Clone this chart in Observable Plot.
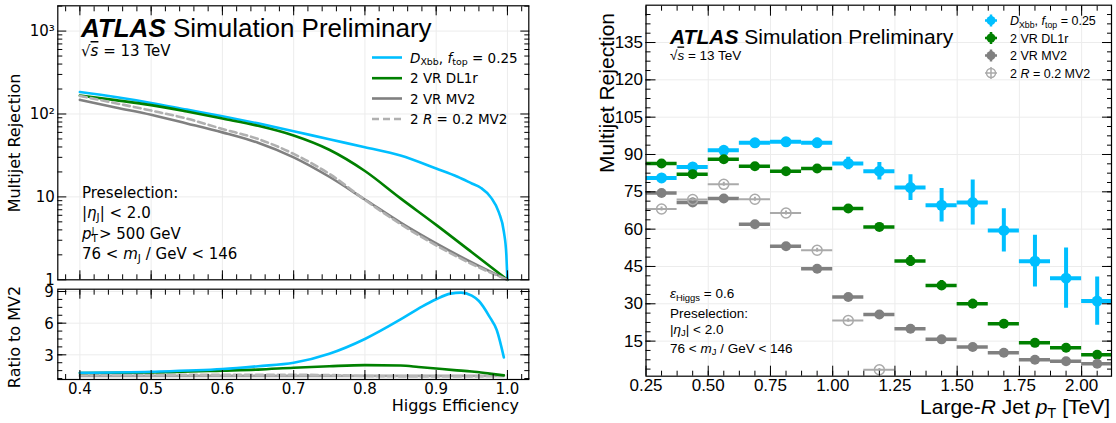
<!DOCTYPE html>
<html><head><meta charset="utf-8">
<script src="https://cdn.jsdelivr.net/npm/d3@7"></script>
<script src="https://cdn.jsdelivr.net/npm/@observablehq/plot@0.6"></script>
<style>
body{margin:0;background:#fff}
#wrap{position:relative;width:1116px;height:423px;overflow:hidden;background:#fff}
</style></head><body><div id="wrap"></div>
<script>
// ---------------- DATA ----------------
// Left top: multijet rejection vs Higgs efficiency
const effBlue = [0.40,0.45,0.50,0.55,0.60,0.65,0.70,0.75,0.80,0.85,0.90,0.93,0.95,0.963,0.977,0.988,0.995,0.9985,1.0];
const rejBlue = [184,160,136,113,94,77,62,49.5,39.8,31.6,22,17.5,14.5,12.8,9.8,6.5,3.8,2.0,1.0];
const effGreen = [0.40,0.45,0.50,0.55,0.60,0.65,0.70,0.75,0.80,0.85,0.90,0.95,1.0];
const rejGreen = [167,147,128,107,88,72,55,37,20.5,9.6,4.6,2.15,1.0];
const effMV2 = [0.40,0.45,0.50,0.55,0.60,0.65,0.70,0.75,0.80,0.85,0.90,0.95,1.0];
const rejMV2 = [148,120,98,77,60,45,30,17.5,9.3,4.9,2.75,1.62,1.0];
const effR02 = [0.40,0.45,0.50,0.55,0.60,0.65,0.70,0.75,0.80,0.85,0.90,0.95,1.0];
const rejR02 = [165,135,110,88,66,50,33,19,9.2,4.7,2.6,1.55,1.0];

// Left bottom: ratio to MV2
const ratBlueX = [0.40,0.50,0.60,0.65,0.70,0.75,0.80,0.85,0.88,0.90,0.92,0.935,0.95,0.96,0.975,0.985,0.995];
const ratBlue  = [1.30,1.40,1.65,1.92,2.24,3.10,4.50,6.35,7.57,8.27,8.80,8.90,8.60,8.10,6.60,5.35,2.75];
const ratGreenX = [0.40,0.50,0.60,0.65,0.70,0.75,0.80,0.85,0.875,0.90,0.925,0.95,0.975,0.995];
const ratGreen  = [1.28,1.33,1.50,1.60,1.78,1.92,2.02,1.98,1.85,1.70,1.55,1.42,1.22,1.05];
const ratMV2X = [0.40,0.995];
const ratMV2  = [1.0,1.0];
const ratR02X = [0.40,0.50,0.60,0.65,0.70,0.75,0.80,0.85,0.90,0.95,0.995];
const ratR02  = [1.12,1.12,1.10,1.10,1.10,1.08,0.99,0.96,0.95,0.95,1.0];

// Right: multijet rejection vs large-R jet pT (TeV), bins
const binLo = [0.25,0.375,0.5,0.625,0.75,0.875,1.0,1.125,1.25,1.375,1.5,1.625,1.75,1.875,2.0];
const binHi = [0.375,0.5,0.625,0.75,0.875,1.0,1.125,1.25,1.375,1.5,1.625,1.75,1.875,2.0,2.125];
const dxbbVal = [80.6,85.0,91.7,94.7,95.1,94.7,86.4,83.3,76.7,69.6,70.7,59.5,47.1,40.3,31.1];
const dxbbErr = [1.2,1.2,1.3,1.3,1.4,1.8,2.5,3.5,5.2,6.7,9.0,8.7,10.4,12.1,9.7];
const dl1rVal = [86.4,82.1,88.1,85.3,83.3,84.4,68.3,60.9,47.2,37.4,30.0,22.0,14.3,12.3,9.5];
const dl1rErr = [1.2,1.2,1.2,1.2,1.2,1.2,1.4,1.5,2.2,2.0,1.8,1.3,1.0,1.0,0.9];
const mv2Val  = [74.5,70.7,72.3,62.0,53.1,44.1,32.7,25.7,20.0,15.7,12.6,10.3,7.5,6.9,5.9];
const mv2Err  = [0.8,0.8,0.8,0.8,0.8,0.8,0.8,0.8,0.8,0.7,0.7,0.6,0.6,0.6,0.6];
const r02Val  = [68.1,71.9,78.0,72.0,66.5,51.5,23.3,3.5];
const r02Err  = [0.8,0.8,0.8,0.8,0.8,0.8,0.7,0.5];

// Tick labels
const logTicks = [1,10,100,1000];
const logTickLabels = ["1","10","10²","10³"];
const effTicks = [0.4,0.5,0.6,0.7,0.8,0.9,1.0];
const ratioTicks = [3,6,9];
const ptTicks = [0.25,0.5,0.75,1.0,1.25,1.5,1.75,2.0];
const rejTicks = [15,30,45,60,75,90,105,120,135];

// Legend labels
const leftNames = ["*D*_{Xbb}, *f*_{top} = 0.25","2 VR DL1r","2 VR MV2","2 *R* = 0.2 MV2"];
const rightNames = ["*D*_{Xbb}, *f*_{top} = 0.25","2 VR DL1r","2 VR MV2","2 *R* = 0.2 MV2"];

// ---------------- STYLE ----------------
const FL = "DejaVu Sans";
const FA = "Liberation Sans, Arial, Helvetica, sans-serif";
const C_BLUE = "#00bfff", C_GREEN = "#008000", C_GRAY = "#808080", C_LGRAY = "#aaaaaa";
const GRID = "#ececec";

const wrap = document.getElementById("wrap");
function place(el, left, top) {
  el.style.position = "absolute";
  el.style.left = left + "px";
  el.style.top = top + "px";
  el.style.maxWidth = "none";
  wrap.appendChild(el);
}

function addText(svg, x, y, str, o = {}) {
  const size = o.size ?? 15;
  const t = d3.select(svg).append("text")
    .attr("x", x).attr("y", y)
    .attr("font-size", size)
    .attr("font-family", o.family ?? FL)
    .attr("text-anchor", o.anchor ?? "start")
    .attr("fill", o.fill ?? "black");
  if (o.rotate) t.attr("transform", `rotate(${o.rotate} ${x} ${y})`);
  const parts = str.split(/(_\{[^}]*\}|\^\{[^}]*\}|\*[^*]+\*|!\{[^}]*\}|~\{[^}]*\}|%\{[^}]*\})/).filter(s => s !== "");
  const sm = size * 0.7;
  let cur = 0;
  const seg = (text, shift, attrs = {}) => {
    const ts = t.append("tspan").text(text);
    if (shift !== cur) { ts.attr("dy", shift - cur); cur = shift; }
    for (const [k, v] of Object.entries(attrs)) ts.attr(k, v);
    return ts;
  };
  for (const p of parts) {
    if (p.startsWith("_{")) seg(p.slice(2, -1), size * 0.2, {"font-size": sm});
    else if (p.startsWith("^{")) seg(p.slice(2, -1), -size * 0.38, {"font-size": sm});
    else if (p.startsWith("!{")) seg(p.slice(2, -1), 0, {"font-weight": "bold", "font-style": "italic"});
    else if (p.startsWith("~{")) seg(p.slice(2, -1), 0, {"font-style": "italic", "text-decoration": "overline"});
    else if (p.startsWith("%{")) {
      const [a, b] = p.slice(2, -1).split("|");
      seg(a, size * 0.25, {"font-size": sm});
      seg(b, -size * 0.3, {"font-size": size * 0.58, dx: -sm * 0.6});
    }
    else if (p.length > 2 && p.startsWith("*") && p.endsWith("*")) seg(p.slice(1, -1), 0, {"font-style": "italic"});
    else seg(p, 0);
  }
  return t;
}

function inTicks(xMaj, xMin, yMaj, yMin, maj = 9, mn = 5) {
  const out = [];
  const blank = () => "";
  for (const anchor of ["bottom", "top"]) {
    out.push(Plot.axisX({anchor, ticks: xMaj, tickSize: -maj, tickFormat: blank, label: null}));
    out.push(Plot.axisX({anchor, ticks: xMin, tickSize: -mn, tickFormat: blank, label: null}));
  }
  for (const anchor of ["left", "right"]) {
    out.push(Plot.axisY({anchor, ticks: yMaj, tickSize: -maj, tickFormat: blank, label: null}));
    out.push(Plot.axisY({anchor, ticks: yMin, tickSize: -mn, tickFormat: blank, label: null}));
  }
  return out;
}

const tbl = (xs, ys) => xs.map((x, i) => ({x, y: ys[i]}));

// ---------------- LEFT TOP ----------------
const effMinor = d3.range(0.38, 1.031, 0.02);
const logMinor = logTicks.flatMap(d => d3.range(2, 10).map(k => k * d)).filter(v => v <= 2018);

const topPlot = Plot.plot({
  width: 540, height: 284,
  marginLeft: 57.3, marginRight: 11.7, marginTop: 5.3, marginBottom: 4.7,
  style: {fontFamily: FL, fontSize: "15px", background: "transparent", color: "black", overflow: "visible"},
  x: {domain: [0.369, 1.030], label: null},
  y: {type: "log", domain: [1, 2018], label: null},
  marks: [
    Plot.gridX({ticks: effTicks, stroke: GRID, strokeOpacity: 1}),
    Plot.gridY({ticks: logTicks, stroke: GRID, strokeOpacity: 1}),
    Plot.line(tbl(effBlue, rejBlue), {x: "x", y: "y", stroke: C_BLUE, strokeWidth: 2.6, curve: "monotone-x"}),
    Plot.line(tbl(effGreen, rejGreen), {x: "x", y: "y", stroke: C_GREEN, strokeWidth: 2.6, curve: "monotone-x"}),
    Plot.line(tbl(effMV2, rejMV2), {x: "x", y: "y", stroke: C_GRAY, strokeWidth: 2.6, curve: "monotone-x"}),
    Plot.line(tbl(effR02, rejR02), {x: "x", y: "y", stroke: "#b0b0b0", strokeWidth: 2.6, strokeDasharray: "7,4", curve: "monotone-x"}),
    ...inTicks(effTicks, effMinor, logTicks, logMinor),
    Plot.axisY({anchor: "left", ticks: logTicks, tickSize: 0, tickPadding: 3, tickFormat: d => logTickLabels[logTicks.indexOf(d)], label: null, fontSize: 15}),
    Plot.frame({stroke: "black", strokeWidth: 1.2})
  ]
});
place(topPlot, 0, 0);
addText(topPlot, 20, 143, "Multijet Rejection", {size: 16, rotate: -90, anchor: "middle"});
addText(topPlot, 81, 37, "!{ATLAS} Simulation Preliminary", {size: 26, family: FA});
addText(topPlot, 81, 56, "√~{s} = 13 TeV", {size: 15});
["Preselection:", "|*η*_{J}| < 2.0", "*p*%{T|J} > 500 GeV", "76 < *m*_{J} / GeV < 146"].forEach((s, i) =>
  addText(topPlot, 82, [198, 218, 238.5, 259][i], s, {size: 15}));
{
  const g = d3.select(topPlot);
  const cols = [C_BLUE, C_GREEN, C_GRAY, "#b0b0b0"];
  const rows = [57.5, 78.2, 98.5, 119];
  rows.forEach((yy, i) => {
    const ln = g.append("line").attr("x1", 372).attr("x2", 402).attr("y1", yy).attr("y2", yy)
      .attr("stroke", cols[i]).attr("stroke-width", 2.6);
    if (i === 3) ln.attr("stroke-dasharray", "7,4");
    addText(topPlot, 410, yy + 5, leftNames[i], {size: 13.5});
  });
}

// ---------------- LEFT BOTTOM ----------------
const ratioMinor = d3.range(0.75, 9.3, 0.75);
const botPlot = Plot.plot({
  width: 540, height: 139,
  marginLeft: 57.3, marginRight: 11.7, marginTop: 4.7, marginBottom: 44,
  style: {fontFamily: FL, fontSize: "15px", background: "transparent", color: "black", overflow: "visible"},
  x: {domain: [0.369, 1.030], label: null},
  y: {domain: [0.66, 9.22], label: null},
  marks: [
    Plot.gridX({ticks: effTicks, stroke: GRID, strokeOpacity: 1}),
    Plot.gridY({ticks: ratioTicks, stroke: GRID, strokeOpacity: 1}),
    Plot.line(tbl(ratMV2X, ratMV2), {x: "x", y: "y", stroke: C_GRAY, strokeWidth: 2.6, strokeOpacity: 0.7}),
    Plot.line(tbl(ratR02X, ratR02), {x: "x", y: "y", stroke: "#b8b8b8", strokeWidth: 2.6, strokeDasharray: "7,4", curve: "monotone-x"}),
    Plot.line(tbl(ratGreenX, ratGreen), {x: "x", y: "y", stroke: C_GREEN, strokeWidth: 2.6, curve: "monotone-x"}),
    Plot.line(tbl(ratBlueX, ratBlue), {x: "x", y: "y", stroke: C_BLUE, strokeWidth: 2.6, curve: "monotone-x"}),
    ...inTicks(effTicks, effMinor, ratioTicks, ratioMinor),
    Plot.axisY({anchor: "left", ticks: ratioTicks, tickSize: 0, tickPadding: 4, dy: 1, tickFormat: d => String(d), label: null, fontSize: 15}),
    Plot.axisX({anchor: "bottom", ticks: effTicks, tickSize: 0, tickPadding: 4, tickFormat: d3.format(".1f"), label: null, fontSize: 15}),
    Plot.frame({stroke: "black", strokeWidth: 1.2})
  ]
});
place(botPlot, 0, 284);
addText(botPlot, 20, 53, "Ratio to MV2", {size: 16, rotate: -90, anchor: "middle"});
addText(botPlot, 519, 127, "Higgs Efficiency", {size: 16, anchor: "end"});

// ---------------- RIGHT ----------------
const ptMinor = d3.range(0.3125, 2.12, 0.0625);
const rejMinor = d3.range(3.75, 150, 3.75);
const series = (vals, errs) => vals.map((v, i) => ({lo: binLo[i], hi: binHi[i], c: (binLo[i] + binHi[i]) / 2, v, e: errs[i]}));
const sBlue = series(dxbbVal, dxbbErr);
const sGreen = series(dl1rVal, dl1rErr);
const sGray = series(mv2Val, mv2Err);
const sLGray = series(r02Val, r02Err);
function errMarks(data, color, w, dot) {
  return [
    Plot.ruleY(data, {y: "v", x1: "lo", x2: "hi", stroke: color, strokeWidth: w, clip: true}),
    Plot.ruleX(data, {x: "c", y1: d => d.v - d.e, y2: d => d.v + d.e, stroke: color, strokeWidth: w, clip: true}),
    Plot.dot(data, {x: "c", y: "v", r: 5, clip: true, ...dot})
  ];
}
const rightPlot = Plot.plot({
  width: 556, height: 423,
  marginLeft: 85.5, marginRight: 5, marginTop: 4.7, marginBottom: 47.3,
  style: {fontFamily: FA, fontSize: "17px", background: "transparent", color: "black", overflow: "visible"},
  x: {domain: [0.25, 2.12], label: null},
  y: {domain: [0.9, 150], label: null},
  marks: [
    Plot.gridX({ticks: ptTicks, stroke: GRID, strokeOpacity: 1}),
    Plot.gridY({ticks: rejTicks, stroke: GRID, strokeOpacity: 1}),
    ...errMarks(sBlue, C_BLUE, 4, {fill: C_BLUE, r: 5.5}),
    ...errMarks(sGreen, C_GREEN, 3.5, {fill: C_GREEN}),
    ...errMarks(sGray, C_GRAY, 3.5, {fill: C_GRAY}),
    ...errMarks(sLGray, C_LGRAY, 2, {fill: "none", stroke: C_LGRAY, strokeWidth: 1.5}),
    ...inTicks(ptTicks, ptMinor, rejTicks, rejMinor, 10, 5),
    Plot.axisY({anchor: "left", ticks: rejTicks, tickSize: 0, tickPadding: 3, tickFormat: d => String(d), label: null, fontSize: 17}),
    Plot.axisX({anchor: "bottom", ticks: ptTicks, tickSize: 0, tickPadding: 3, tickFormat: d3.format(".2f"), label: null, fontSize: 17}),
    Plot.frame({stroke: "black", strokeWidth: 1.2})
  ]
});
place(rightPlot, 560, 0);
addText(rightPlot, 54, 13, "Multijet Rejection", {size: 21, family: FA, rotate: -90, anchor: "end"});
addText(rightPlot, 550, 414, "Large-*R* Jet *p*_{T} [TeV]", {size: 21, family: FA, anchor: "end"});
addText(rightPlot, 110, 43.5, "!{ATLAS} Simulation Preliminary", {size: 21, family: FA});
addText(rightPlot, 110, 59.5, "√~{s} = 13 TeV", {size: 13.5, family: FA});
["*ε*_{Higgs} = 0.6", "Preselection:", "|*η*_{J}| < 2.0", "76 < *m*_{J} / GeV < 146"].forEach((s, i) =>
  addText(rightPlot, 110, [298, 318, 333.5, 352.5][i], s, {size: 13.5, family: FA}));
{
  const g = d3.select(rightPlot);
  const cols = [C_BLUE, C_GREEN, C_GRAY, C_LGRAY];
  const rows = [20.5, 38, 55.5, 73];
  rows.forEach((yy, i) => {
    const mx = 431;
    g.append("line").attr("x1", mx - 6).attr("x2", mx + 6).attr("y1", yy).attr("y2", yy).attr("stroke", cols[i]).attr("stroke-width", i === 3 ? 1.5 : 2.5);
    g.append("line").attr("x1", mx).attr("x2", mx).attr("y1", yy - 6).attr("y2", yy + 6).attr("stroke", cols[i]).attr("stroke-width", i === 3 ? 1.5 : 2.5);
    if (i === 3) g.append("circle").attr("cx", mx).attr("cy", yy).attr("r", 4.5).attr("fill", "none").attr("stroke", cols[i]).attr("stroke-width", 1.5);
    else g.append("circle").attr("cx", mx).attr("cy", yy).attr("r", 4.5).attr("fill", cols[i]);
    addText(rightPlot, 450, yy + 4.5, rightNames[i], {size: 12.5, family: FA});
  });
}
</script>
</body></html>
